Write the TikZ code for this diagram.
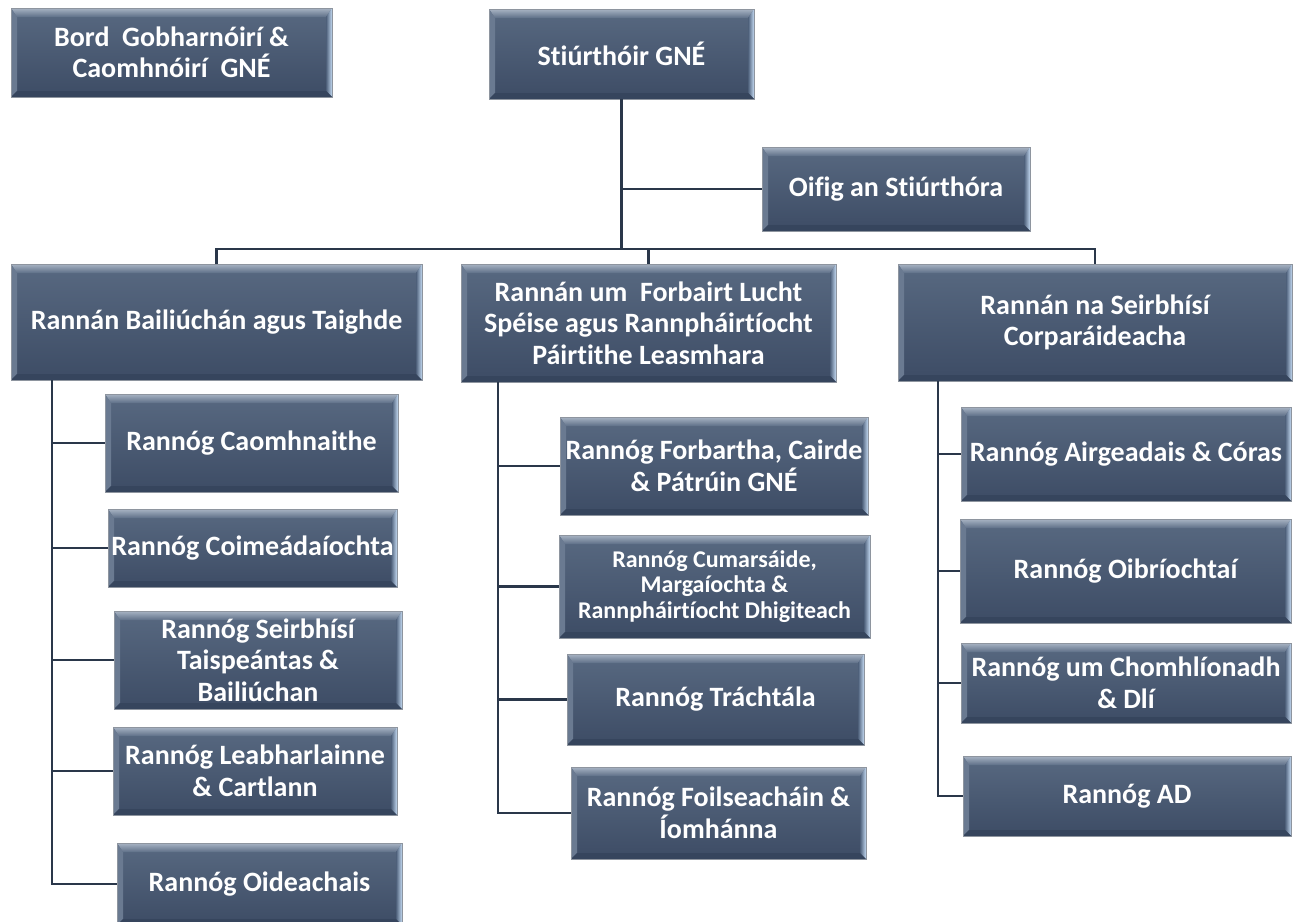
\documentclass[tikz,border=0pt]{standalone}
\usepackage{fontspec}
\setmainfont{Carlito}[Ligatures={NoCommon,NoContextual}]
\definecolor{boxtop}{HTML}{586981}
\definecolor{boxbot}{HTML}{3D4C65}
\definecolor{boxline}{HTML}{8E959F}
\definecolor{bevtopA}{HTML}{A8B4C4}
\definecolor{bevtopB}{HTML}{5E6F87}
\definecolor{bevleft}{HTML}{6A7A91}
\definecolor{bevrightA}{HTML}{4E607A}
\definecolor{bevrightB}{HTML}{C4DAF2}
\definecolor{bevbot}{HTML}{36455D}
\definecolor{wire}{HTML}{2A374A}
\newcommand\bxfont{\fontsize{28}{31.5}\selectfont\bfseries}
\newcommand\bxsmall{\fontsize{24}{25.5}\selectfont\bfseries}
\newcommand\bvd{9pt}
\newcommand\bvs{6pt}
\tikzset{
  orgbox/.style={rectangle, draw=boxline, line width=0.8pt, inner sep=0pt,
    text=white, font=\bxfont, align=center,
    top color=boxtop, bottom color=boxbot,
    path picture={
      \path (path picture bounding box.north west) coordinate (pnw)
            (path picture bounding box.north east) coordinate (pne)
            (path picture bounding box.south west) coordinate (psw)
            (path picture bounding box.south east) coordinate (pse);
      \shade[top color=bevtopA, bottom color=bevtopB]
        (pnw) -- (pne) -- ([shift={(-\bvs,-\bvd)}]pne) -- ([shift={(\bvs,-\bvd)}]pnw) -- cycle;
      \fill[bevleft]
        (pnw) -- ([shift={(\bvs,-\bvd)}]pnw) -- ([shift={(\bvs,\bvs)}]psw) -- (psw) -- cycle;
      \shade[left color=bevrightA, right color=bevrightB]
        (pne) -- ([shift={(-\bvs,-\bvd)}]pne) -- ([shift={(-\bvs,\bvs)}]pse) -- (pse) -- cycle;
      \fill[bevbot]
        (psw) -- ([shift={(\bvs,\bvs)}]psw) -- ([shift={(-\bvs,\bvs)}]pse) -- (pse) -- cycle;
    }},
  wireline/.style={draw=wire, line width=2.8pt}
}
% [opts]{name}{x1}{x2}{y1}{y2}{text}
\newcommand\obox[7][]{%
  \node[orgbox, minimum width={(#4-#3)*1pt}, minimum height={(#6-#5)*1pt}, #1]
    (#2) at ({(#3+#4)/2},{(#5+#6)/2}) {#7};}
\begin{document}
\begin{tikzpicture}[x=1pt,y=-1pt]
\useasboundingbox[fill=white] (0,0) rectangle (1293,921);
% top level
\obox{bord}{11}{332}{8}{97}{Bord\ \ Gobharnóirí \&\\Caomhnóirí\ \ GNÉ}
\obox{dir}{489}{754}{9}{99}{Stiúrthóir GNÉ}
\obox{oifig}{762}{1030}{147}{231}{Oifig an Stiúrthóra}
% divisions
\obox{L}{11}{422}{264}{380}{Rannán Bailiúchán agus Taighde}
\obox{M}{461}{836}{264}{382}{Rannán um\ \ Forbairt Lucht\\Spéise agus Rannpháirtíocht\\Páirtithe Leasmhara}
\obox{R}{898}{1292}{264}{381}{Rannán na Seirbhísí\\Corparáideacha}
% left children
\obox{c1}{105}{398}{394}{492}{Rannóg Caomhnaithe}
\obox{c2}{108}{397}{509}{587}{Rannóg Coimeádaíochta}
\obox{c3}{114}{402}{611}{709}{Rannóg Seirbhísí\\Taispeántas \&\\Bailiúchan}
\obox{c4}{113}{397}{727}{815}{Rannóg Leabharlainne\\\& Cartlann}
\obox{c5}{117}{402}{843}{925}{Rannóg Oideachais}
% middle children
\obox{m1}{560}{868}{417}{515}{Rannóg Forbartha, Cairde\\\& Pátrúin GNÉ}
\obox[font=\bxsmall]{m2}{559}{870}{535}{638}{Rannóg Cumarsáide,\\Margaíochta \&\\Rannpháirtíocht Dhigiteach}
\obox{m3}{567}{864}{654}{745}{Rannóg Tráchtála}
\obox{m4}{571}{866}{767}{859}{Rannóg Foilseacháin \&\\Íomhánna}
% right children
\obox{r1}{961}{1291}{407}{501}{Rannóg Airgeadais \& Córas}
\obox{r2}{960}{1291}{519}{623}{Rannóg Oibríochtaí}
\obox{r3}{961}{1291}{643}{723}{Rannóg um Chomhlíonadh\\\& Dlí}
\obox{r4}{963}{1291}{756}{836}{Rannóg AD}
% spines
\coordinate (bar) at (621.5,249);
\coordinate (Lx) at (52,0);
\coordinate (Mx) at (498,0);
\coordinate (Rx) at (938,0);
\draw[wireline] (dir.south) -- (bar);
\draw[wireline] (dir.south |- oifig.west) -- (oifig.west);
\draw[wireline] (L.north) |- (bar) -| (R.north);
\draw[wireline] (bar -| M.north) -- (M.north);
\draw[wireline] (L.south -| Lx) |- (c5.west);
\foreach \c in {c1,c2,c3,c4}{\draw[wireline] (\c.west -| Lx) -- (\c.west);}
\draw[wireline] (M.south -| Mx) |- (m4.west);
\foreach \c in {m1,m2,m3}{\draw[wireline] (\c.west -| Mx) -- (\c.west);}
\draw[wireline] (R.south -| Rx) |- (r4.west);
\foreach \c in {r1,r2,r3}{\draw[wireline] (\c.west -| Rx) -- (\c.west);}
\end{tikzpicture}
\end{document}
